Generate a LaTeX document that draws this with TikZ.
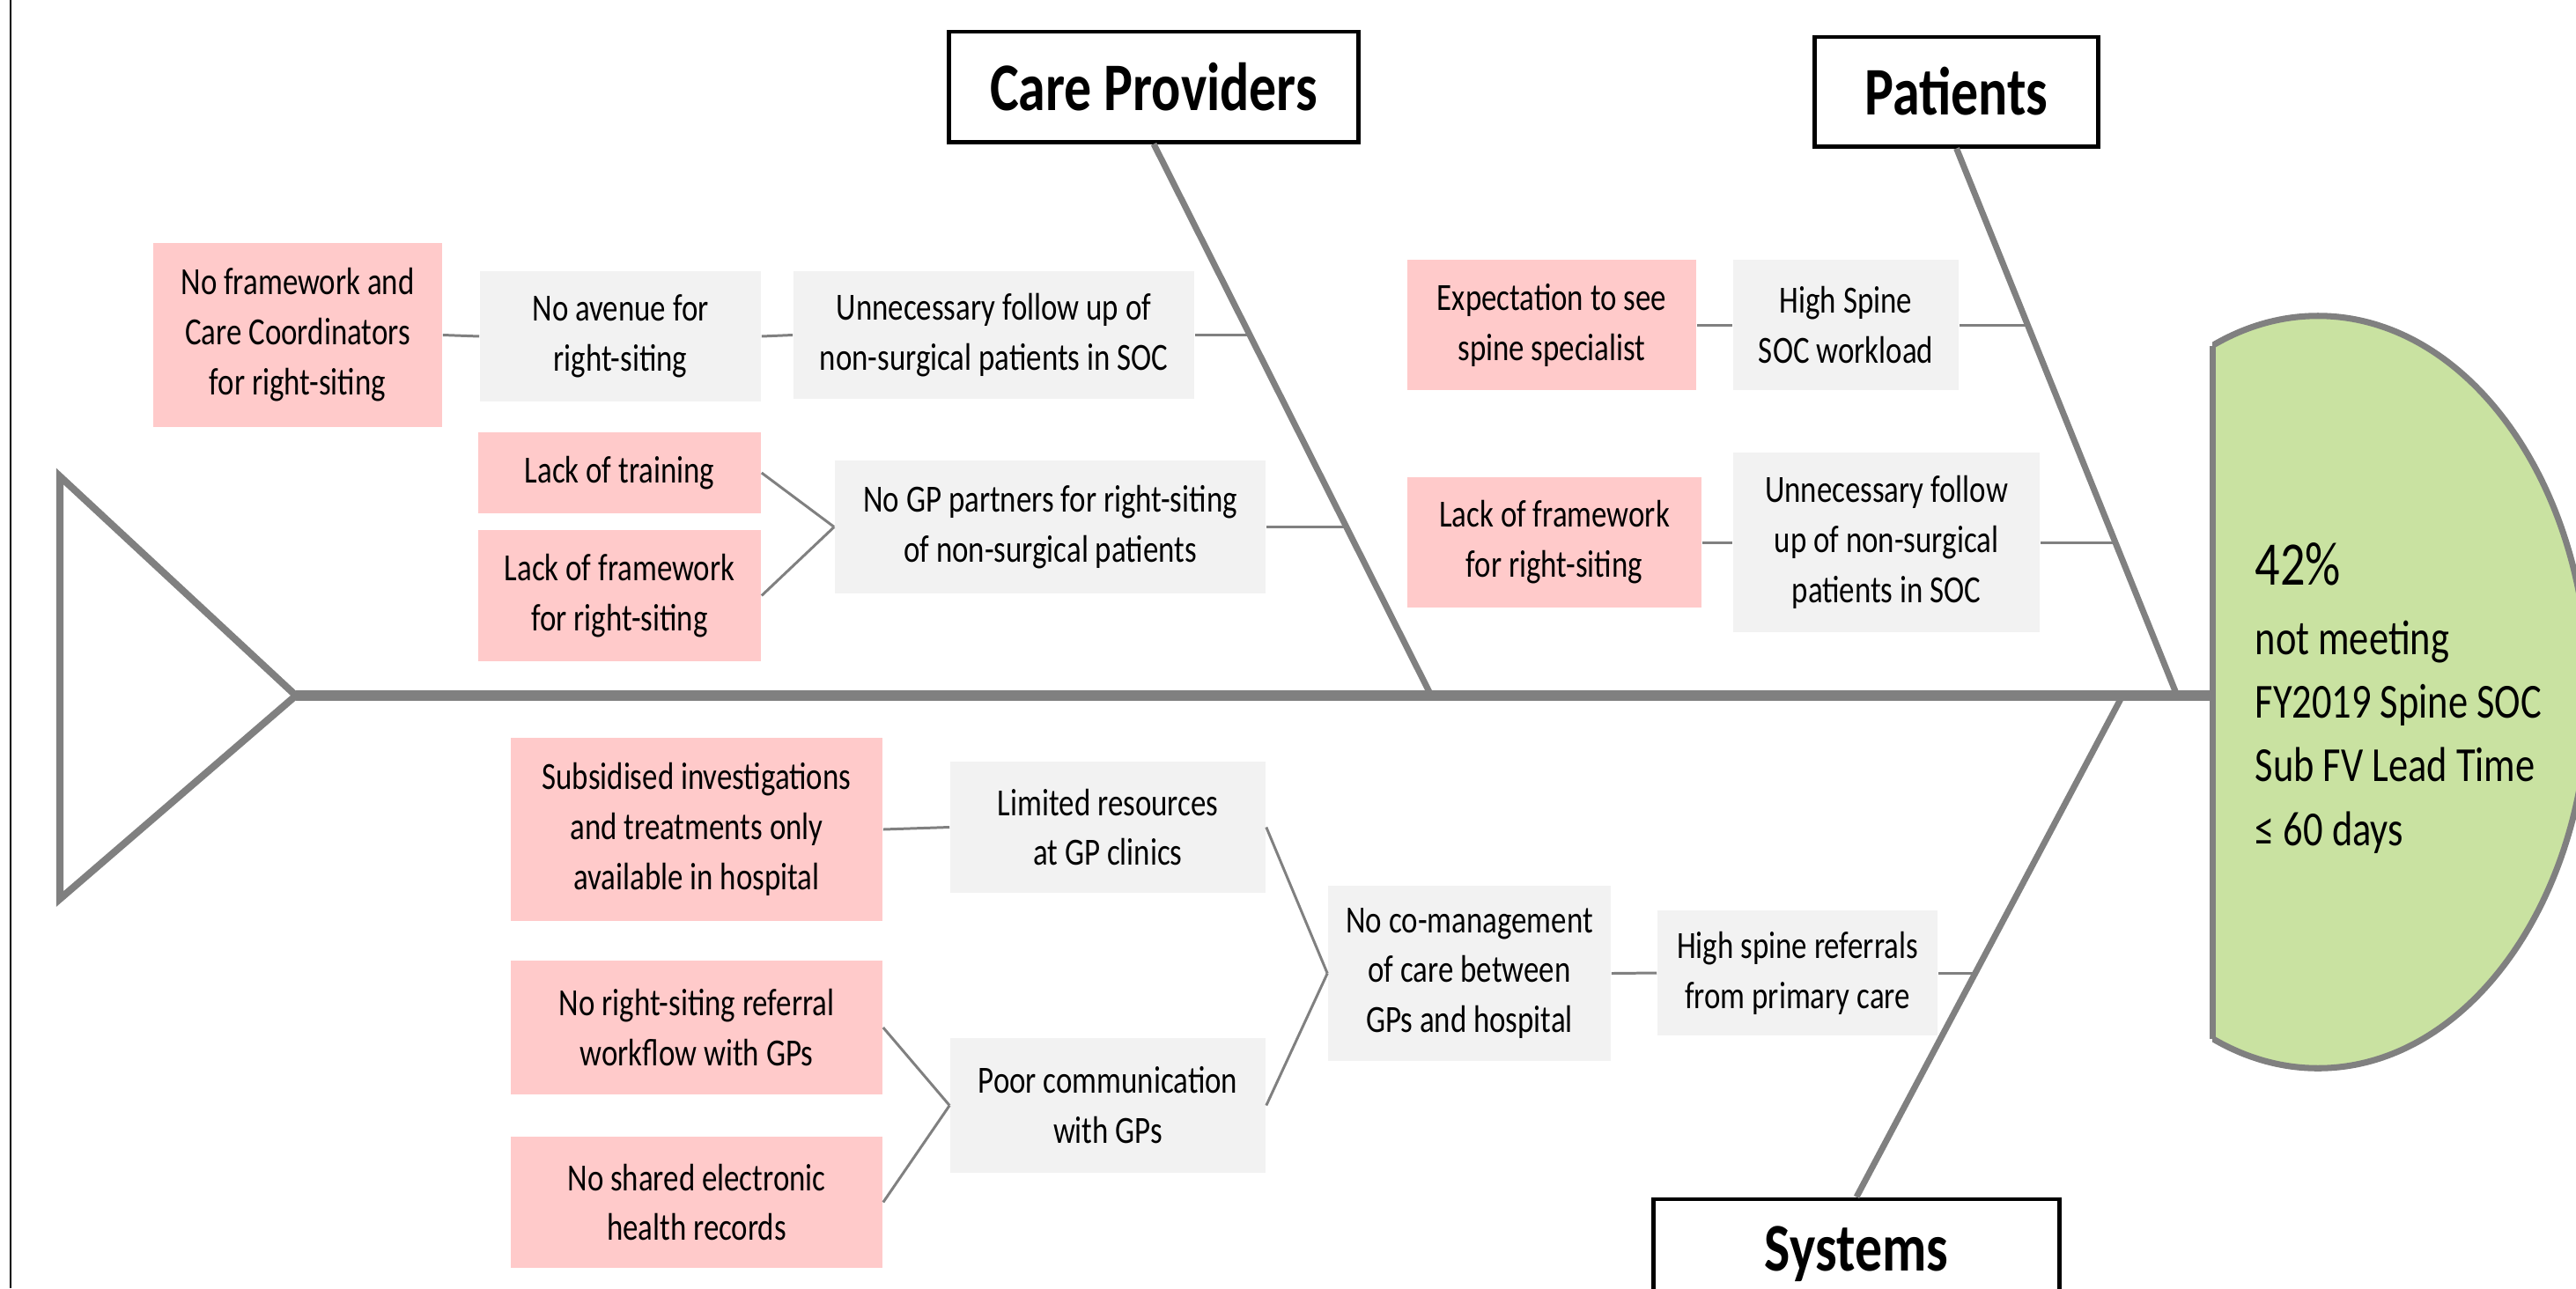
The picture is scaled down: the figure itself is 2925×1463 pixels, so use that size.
\documentclass[tikz,border=0pt]{standalone}
\usepackage{fontspec}
\setmainfont{Carlito}[FakeStretch=0.8]
\usepackage{xcolor}
\usepackage{tikz}

\definecolor{pinkfill}{RGB}{255,202,202}
\definecolor{greyfill}{RGB}{242,242,242}
\definecolor{headfill}{RGB}{201,226,161}
\definecolor{boneline}{RGB}{128,128,128}

\begin{document}
\begin{tikzpicture}[x=0.01cm,y=-0.01cm,
 cause/.style={fill=pinkfill,inner sep=0pt,align=center,font=\fontsize{12.4}{16.2}\selectfont},
 effect/.style={cause,fill=greyfill},
 bonetitle/.style={draw=black,line width=1.4pt,fill=white,inner sep=0pt,font=\bfseries\fontsize{22}{26}\selectfont},
 link/.style={draw=boneline,line width=0.85pt},
 bone/.style={draw=boneline,line width=2pt}]

\useasboundingbox (0,0) rectangle (2925,1463);
\draw[line width=0.6pt] (11.7,0) -- (11.7,1463);

%tail and spine
\coordinate (tailtop) at (68,541); \coordinate (tail) at (336,790); \coordinate (tailbot) at (68,1021);
\draw[boneline,line width=2.3pt] (tailtop) -- (tail) -- (tailbot) -- cycle;
\coordinate (head) at (2512,790);
\draw[boneline,line width=3.4pt] (tail) -- (head);

%head
\begin{scope}
 \clip (2512,0) rectangle (2925,1463);
 \draw[boneline,fill=headfill,line width=2pt] (2632,786) ellipse [x radius=3.07cm,y radius=4.27cm];
\end{scope}
\draw[boneline,line width=2pt] (2512,393) -- (2512,1180);
\node[anchor=base west,align=left,inner sep=0pt,font=\fontsize{15.8}{20.5}\selectfont] (goal) at (2560,960)
 {{\fontsize{20}{24}\selectfont 42\%}\\[2pt] not meeting\\ FY2019 Spine SOC\\ Sub FV Lead Time\\ ≤ 60 days};

%titles
\node[bonetitle,minimum width=4.64cm,minimum height=1.25cm] (carep) at (1310,98.5) {Care Providers};
\node[bonetitle,minimum width=3.21cm,minimum height=1.24cm] (patients) at (2221.5,104) {Patients};
\node[bonetitle,minimum width=4.60cm,minimum height=1.25cm] (systems) at (2108,1424.5) {Systems};
\coordinate (cpend) at (1625,790); \draw[bone] (carep.south) -- (cpend);
\coordinate (ptend) at (2472,790); \draw[bone] (patients.south) -- (ptend);
\coordinate (syend) at (2410,790); \draw[bone] (systems.north) -- (syend);
\coordinate (cpa) at (1420,380.5); \coordinate (cpb) at (1529,598.5);
\coordinate (pta) at (2303,369); \coordinate (ptb) at (2402,616);
\coordinate (sya) at (2244,1105);

%care providers
\node[cause,minimum width=3.28cm,minimum height=2.09cm] (nofw) at (338,380.5) {No framework and\\Care Coordinators\\for right-siting};
\node[effect,minimum width=3.19cm,minimum height=1.48cm] (avenue) at (704.5,382) {No avenue for\\right-siting};
\node[effect,minimum width=4.55cm,minimum height=1.45cm] (followup) at (1128.5,380.5) {Unnecessary follow up of\\non-surgical patients in SOC};
\node[cause,minimum width=3.21cm,minimum height=0.92cm] (training) at (703.5,537) {Lack of training};
\node[cause,minimum width=3.21cm,minimum height=1.49cm] (frame) at (703.5,676.5) {Lack of framework\\for right-siting};
\node[effect,minimum width=4.89cm,minimum height=1.51cm] (gppart) at (1192.5,598.5) {No GP partners for right-siting\\of non-surgical patients};

%patients
\node[cause,minimum width=3.28cm,minimum height=1.48cm] (expect) at (1762,369) {Expectation to see\\spine specialist};
\node[effect,minimum width=2.56cm,minimum height=1.48cm] (workload) at (2096,369) {High Spine\\SOC workload};
\node[cause,minimum width=3.34cm,minimum height=1.48cm] (frametwo) at (1765,616) {Lack of framework\\for right-siting};
\node[effect,minimum width=3.48cm,minimum height=2.04cm] (followtwo) at (2142,616) {Unnecessary follow\\up of non-surgical\\patients in SOC};

%systems
\node[cause,minimum width=4.22cm,minimum height=2.08cm] (subsid) at (791,942) {Subsidised investigations\\and treatments only\\available in hospital};
\node[cause,minimum width=4.22cm,minimum height=1.52cm] (workflow) at (791,1167) {No right-siting referral\\workflow with GPs};
\node[cause,minimum width=4.22cm,minimum height=1.49cm] (ehr) at (791,1365.5) {No shared electronic\\health records};
\node[effect,minimum width=3.58cm,minimum height=1.49cm] (resources) at (1258,939.5) {Limited resources\\at GP clinics};
\node[effect,minimum width=3.58cm,minimum height=1.53cm] (comms) at (1258,1255.5) {Poor communication\\with GPs};
\node[effect,minimum width=3.21cm,minimum height=1.99cm] (comgmt) at (1668.5,1105.5) {No co-management\\of care between\\GPs and hospital};
\node[effect,minimum width=3.18cm,minimum height=1.42cm] (referrals) at (2041,1105) {High spine referrals\\from primary care};

\foreach \a/\b in {nofw/avenue,avenue/followup,training/gppart,frame/gppart,expect/workload,frametwo/followtwo,
 subsid/resources,workflow/comms,ehr/comms,resources/comgmt,comms/comgmt,comgmt/referrals}
 \draw[link] (\a.east) -- (\b.west);
\foreach \a/\b in {followup/cpa,gppart/cpb,workload/pta,followtwo/ptb,referrals/sya}
 \draw[link] (\a.east) -- (\b);

\end{tikzpicture}
\end{document}
